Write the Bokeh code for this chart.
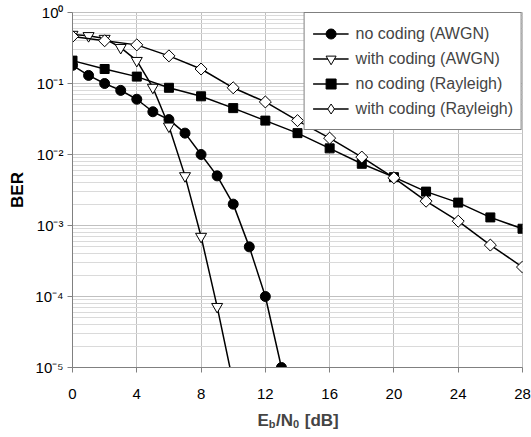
from bokeh.plotting import figure
from bokeh.models import (FixedTicker, CustomJSTickFormatter, Label, Legend,
                          LegendItem)
from bokeh.embed import file_html
from bokeh.resources import INLINE
import math

# Eb/N0 grids (dB)
snr_awgn_uncoded = [0, 1, 2, 3, 4, 5, 6, 7, 8, 9, 10, 11, 12, 13]
snr_awgn_coded = [0, 1, 2, 3, 4, 5, 6, 7, 8, 9, 10]
snr_rayleigh = [0, 2, 4, 6, 8, 10, 12, 14, 16, 18, 20, 22, 24, 26, 28]

# bit error rates
ber_awgn_uncoded = [0.18, 0.13, 0.10, 0.08, 0.06, 0.04, 0.031, 0.02, 0.01,
                    0.005, 0.002, 0.0005, 0.0001, 0.00001]
ber_awgn_coded = [0.49, 0.47, 0.43, 0.32, 0.21, 0.088, 0.025, 0.005,
                  0.0007, 0.000072, 0.000006]
ber_rayleigh_uncoded = [0.21, 0.16, 0.125, 0.087, 0.066, 0.045, 0.03, 0.02,
                        0.0122, 0.0074, 0.0048, 0.003, 0.0021, 0.0013, 0.0009]
ber_rayleigh_coded = [0.46, 0.40, 0.35, 0.245, 0.16, 0.087, 0.055, 0.030,
                      0.017, 0.0092, 0.0047, 0.0022, 0.00115, 0.00053, 0.00026]

series_names = ["no coding (AWGN)", "with coding (AWGN)",
                "no coding (Rayleigh)", "with coding (Rayleigh)"]

x_ticks = [0, 4, 8, 12, 16, 20, 24, 28]
y_decades = [-5, -4, -3, -2, -1, 0]

FONT = "Liberation Sans"

p = figure(width=531, height=437, x_range=(0, 28), y_range=(1e-5, 1),
           y_axis_type="log", output_backend="svg", toolbar_location=None,
           min_border_left=72, min_border_right=9, min_border_top=12,
           min_border_bottom=70)
p.background_fill_color = "white"
p.border_fill_color = "white"
p.outline_line_color = "#c0c0c0"

major_y = [10.0 ** e for e in y_decades]
minor_y = [m * 10.0 ** e for e in y_decades[:-1] for m in range(2, 10)]

p.xaxis.ticker = FixedTicker(ticks=x_ticks)
p.yaxis.ticker = FixedTicker(ticks=major_y, minor_ticks=minor_y)
p.yaxis.formatter = CustomJSTickFormatter(code="""
    const sup = {"-": "\u207b", "0": "\u2070", "1": "\u00b9", "2": "\u00b2",
                 "3": "\u00b3", "4": "\u2074", "5": "\u2075", "6": "\u2076",
                 "7": "\u2077", "8": "\u2078", "9": "\u2079"};
    const e = Math.round(Math.log10(tick)).toString();
    return "10" + e.split("").map(c => sup[c]).join("");
""")

for ax in (p.xaxis[0], p.yaxis[0]):
    ax.axis_line_color = "#808080"
    ax.major_tick_line_color = "#808080"
    ax.major_tick_out = 5
    ax.major_tick_in = 0
    ax.minor_tick_line_color = None
    ax.major_label_text_font = FONT
    ax.major_label_text_font_size = "15px"
    ax.major_label_text_color = "black"
p.xaxis.major_label_standoff = 16
p.yaxis.major_label_standoff = 4

p.yaxis.axis_label = "BER"
p.yaxis.axis_label_text_font = FONT
p.yaxis.axis_label_text_font_size = "17px"
p.yaxis.axis_label_text_font_style = "bold"
p.yaxis.axis_label_text_color = "black"
p.yaxis.axis_label_standoff = 5

p.xgrid.grid_line_color = "#c0c0c0"
p.ygrid.grid_line_color = "#c0c0c0"
p.ygrid.minor_grid_line_color = "#dadada"

# curves
l0 = p.line(snr_awgn_uncoded, ber_awgn_uncoded, color="black", line_width=1.5)
m0 = p.scatter(snr_awgn_uncoded, ber_awgn_uncoded, marker="circle", size=10,
               fill_color="black", line_color="black")

l1 = p.line(snr_awgn_coded, ber_awgn_coded, color="black", line_width=1.5)
m1 = p.scatter(snr_awgn_coded, ber_awgn_coded, marker="inverted_triangle",
               size=11, fill_color="white", line_color="black")

l2 = p.line(snr_rayleigh, ber_rayleigh_uncoded, color="black", line_width=1.5)
m2 = p.scatter(snr_rayleigh, ber_rayleigh_uncoded, marker="square", size=9,
               fill_color="black", line_color="black")

l3 = p.line(snr_rayleigh, ber_rayleigh_coded, color="black", line_width=1.5)
# narrow diamond kept beneath the rotated squares; it supplies the legend icon
m3_key = p.scatter(snr_rayleigh, ber_rayleigh_coded, marker="diamond", size=11,
                   fill_color="white", line_color="black")
m3 = p.scatter(snr_rayleigh, ber_rayleigh_coded, marker="square", size=8.5,
               angle=math.pi / 4, fill_color="white", line_color="black")

leg = Legend(items=[
    LegendItem(label=series_names[0], renderers=[l0, m0]),
    LegendItem(label=series_names[1], renderers=[l1, m1]),
    LegendItem(label=series_names[2], renderers=[l2, m2]),
    LegendItem(label=series_names[3], renderers=[l3, m3_key]),
])
p.add_layout(leg)
leg.location = "top_right"
leg.margin = 0
leg.padding = 8
leg.spacing = -4
leg.label_height = 25
leg.glyph_height = 25
leg.glyph_width = 36
leg.label_standoff = 7
leg.label_text_font = FONT
leg.label_text_font_size = "16px"
leg.border_line_color = "black"
leg.border_line_width = 1
leg.background_fill_color = "white"
leg.background_fill_alpha = 1.0

# x title "Eb/N0 [dB]": main characters on one label, subscripts on another
gap = "\u2005\u2006"
title_main = "E" + gap + "/N" + gap + " [dB]"
title_subs = "b" + "\u2003\u2004\u2005" + "0"

p.add_layout(Label(x=185, y=0, x_units="screen", y_units="screen",
                   text=title_main, text_font=FONT, text_font_size="17px",
                   text_font_style="bold", text_align="left",
                   text_baseline="alphabetic"), "below")
p.add_layout(Label(x=196.3, y=9, x_units="screen", y_units="screen",
                   text=title_subs, text_font=FONT, text_font_size="11px",
                   text_font_style="bold", text_align="left",
                   text_baseline="alphabetic"), "below")

open("out.html", "w").write(file_html(p, INLINE))
